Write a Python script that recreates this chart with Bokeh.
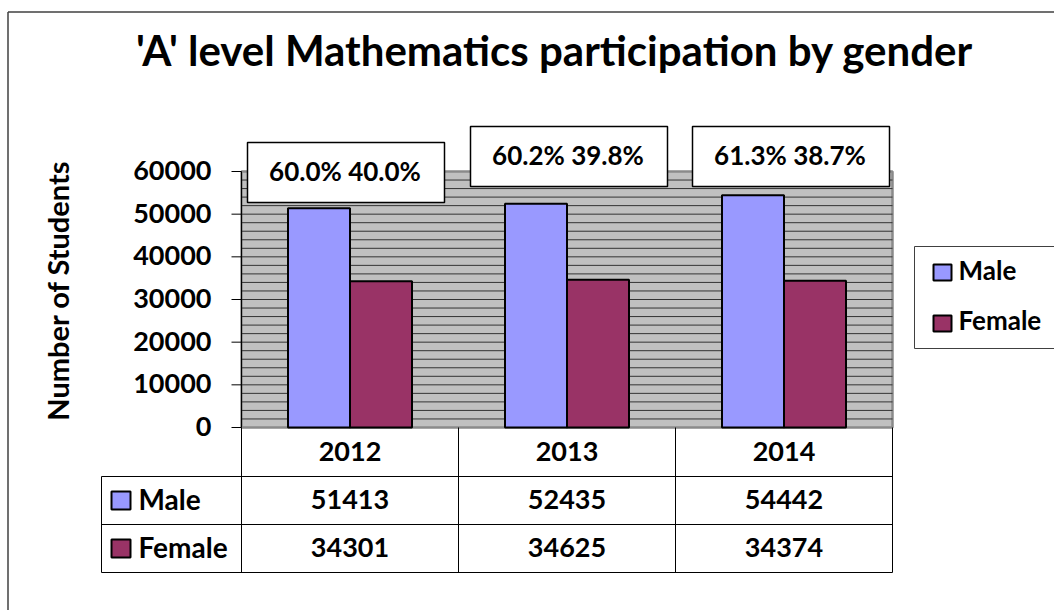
import math
from bokeh.plotting import figure
from bokeh.models import Range1d
from bokeh.core.properties import value
from bokeh.embed import file_html
from bokeh.resources import INLINE

# ---- data ----
years = ["2012", "2013", "2014"]
male = [51413, 52435, 54442]
female = [34301, 34625, 34374]
series_names = ["Male", "Female"]
y_ticks = [0, 10000, 20000, 30000, 40000, 50000, 60000]
title_text = "'A' level Mathematics participation by gender"
y_title = "Number of Students"

# ---- layout (page pixel geometry) ----
W, H = 1054, 610
OFF = 0             # page offset of the figure
X0 = 241.0          # page px of category axis start
UX = 217.0          # px per category
Y0 = 427.0          # page px (from top) of value 0
UY = 256.0 / 60000  # px per value unit
TXT_SHIFT = 10.5    # baseline correction for text rendering (px)

def dx(px):  # page x -> data x
    return (px - X0) / UX

def dy(py):  # page y -> data y
    return (Y0 - py) / UY

def by(py, shift=TXT_SHIFT):  # baseline page y -> data y (corrected)
    return dy(py - shift)

FONT = value("Lato")
MALE_C = "#9999FF"
FEMALE_C = "#993366"

p = figure(width=W, height=H, x_range=Range1d(dx(OFF), dx(OFF + W)),
           y_range=Range1d(dy(OFF + H), dy(OFF)), min_border=0,
           toolbar_location=None, output_backend="svg",
           x_axis_type=None, y_axis_type=None, outline_line_color=None)
p.grid.visible = False

n = len(years)
centers = [i + 0.5 for i in range(n)]
bw = 1 / 3.5

# outer chart border
p.segment(x0=[dx(7.5), dx(7.5)], y0=[dy(11.5), dy(11.5)],
          x1=[dx(7.5), dx(1070)], y1=[dy(640), dy(11.5)],
          line_color="#404040", line_width=1.5)

# plot area with horizontal line pattern
p.quad(left=0, right=n, bottom=0, top=max(y_ticks), fill_color="#c0c0c0",
       line_color="#8a8a8a", line_width=2.5)
stripes = list(range(2000, max(y_ticks), 2000))
p.segment(x0=[0] * len(stripes), x1=[n] * len(stripes), y0=stripes, y1=stripes,
          line_color="#333333", line_width=1)

# bars
p.vbar(x=[c - bw / 2 for c in centers], top=male, width=bw, bottom=0,
       fill_color=MALE_C, line_color="black", line_width=2)
p.vbar(x=[c + bw / 2 for c in centers], top=female, width=bw, bottom=0,
       fill_color=FEMALE_C, line_color="black", line_width=2)

# y axis
p.segment(x0=[0], x1=[0], y0=[0], y1=[max(y_ticks)], line_color="black", line_width=1)
p.segment(x0=[dx(231)] * len(y_ticks), x1=[0] * len(y_ticks), y0=y_ticks, y1=y_ticks,
          line_color="black", line_width=1)
p.text(x=[dx(211)] * len(y_ticks), y=[t - (9.5 - TXT_SHIFT) / UY for t in y_ticks],
       text=[str(t) for t in y_ticks], text_font=FONT, text_font_style="bold",
       text_font_size="27px", text_align="right", text_baseline="alphabetic",
       text_color="black")

# axis title
p.text(x=[dx(57)], y=[dy(290)], text=[y_title], angle=math.pi / 2,
       text_font=FONT, text_font_style="bold", text_font_size="29px",
       text_align="center", text_baseline="middle", text_color="black")

# chart title
p.text(x=[dx(554)], y=[by(68, 19)], text=[title_text], text_font=FONT,
       text_font_style="bold", text_font_size="42px", text_align="center",
       text_baseline="alphabetic", text_color="black")

# percentage label boxes
box_left = [247, 470, 692]
box_top = [142, 126, 126]
box_w, box_h = 197, 60
pct_text = []
for m, f in zip(male, female):
    t = m + f
    pct_text.append(f"{100 * m / t:.1f}% {100 * f / t:.1f}%")
p.quad(left=[dx(l) for l in box_left], right=[dx(l + box_w) for l in box_left],
       top=[dy(t) for t in box_top], bottom=[dy(t + box_h) for t in box_top],
       fill_color="white", line_color="black", line_width=1.5)
p.text(x=[dx(l + box_w / 2 - 1) for l in box_left], y=[by(t + 39) for t in box_top],
       text=pct_text, text_font=FONT, text_font_style="bold", text_font_size="26px",
       text_align="center", text_baseline="alphabetic", text_color="black")

# data table
row_lines_y = [476, 524, 572]
p.segment(x0=[dx(101)] * 3, x1=[n] * 3, y0=[dy(y) for y in row_lines_y],
          y1=[dy(y) for y in row_lines_y], line_color="black", line_width=1)
vx = [float(i) for i in range(n + 1)]
p.segment(x0=vx, x1=vx, y0=[0] * len(vx), y1=[dy(572)] * len(vx),
          line_color="black", line_width=1)
p.segment(x0=[dx(101)], x1=[dx(101)], y0=[dy(476)], y1=[dy(572)],
          line_color="black", line_width=1)
p.text(x=centers, y=[by(461)] * n, text=years, text_font=FONT,
       text_font_style="bold", text_font_size="27px", text_align="center",
       text_baseline="alphabetic", text_color="black")
p.text(x=centers, y=[by(509)] * n, text=[str(v) for v in male], text_font=FONT,
       text_font_style="bold", text_font_size="27px", text_align="center",
       text_baseline="alphabetic", text_color="black")
p.text(x=centers, y=[by(557)] * n, text=[str(v) for v in female], text_font=FONT,
       text_font_style="bold", text_font_size="27px", text_align="center",
       text_baseline="alphabetic", text_color="black")
# row keys
p.quad(left=[dx(111)] * 2, right=[dx(130)] * 2, top=[dy(491), dy(539)],
       bottom=[dy(509), dy(557)], fill_color=[MALE_C, FEMALE_C],
       line_color="black", line_width=2)
p.text(x=[dx(138)] * 2, y=[by(509), by(557)], text=series_names, text_font=FONT,
       text_font_style="bold", text_font_size="28px", text_align="left",
       text_baseline="alphabetic", text_color="black")

# legend
p.quad(left=[dx(914)], right=[dx(1080)], top=[dy(246)], bottom=[dy(348)],
       fill_color="white", line_color="#404040", line_width=1)
p.quad(left=[dx(933)] * 2, right=[dx(951)] * 2, top=[dy(264), dy(315)],
       bottom=[dy(280), dy(331)], fill_color=[MALE_C, FEMALE_C],
       line_color="black", line_width=2)
p.text(x=[dx(958)] * 2, y=[by(280), by(330)], text=series_names, text_font=FONT,
       text_font_style="bold", text_font_size="26px", text_align="left",
       text_baseline="alphabetic", text_color="black")

open("out.html", "w").write(file_html(p, INLINE))
